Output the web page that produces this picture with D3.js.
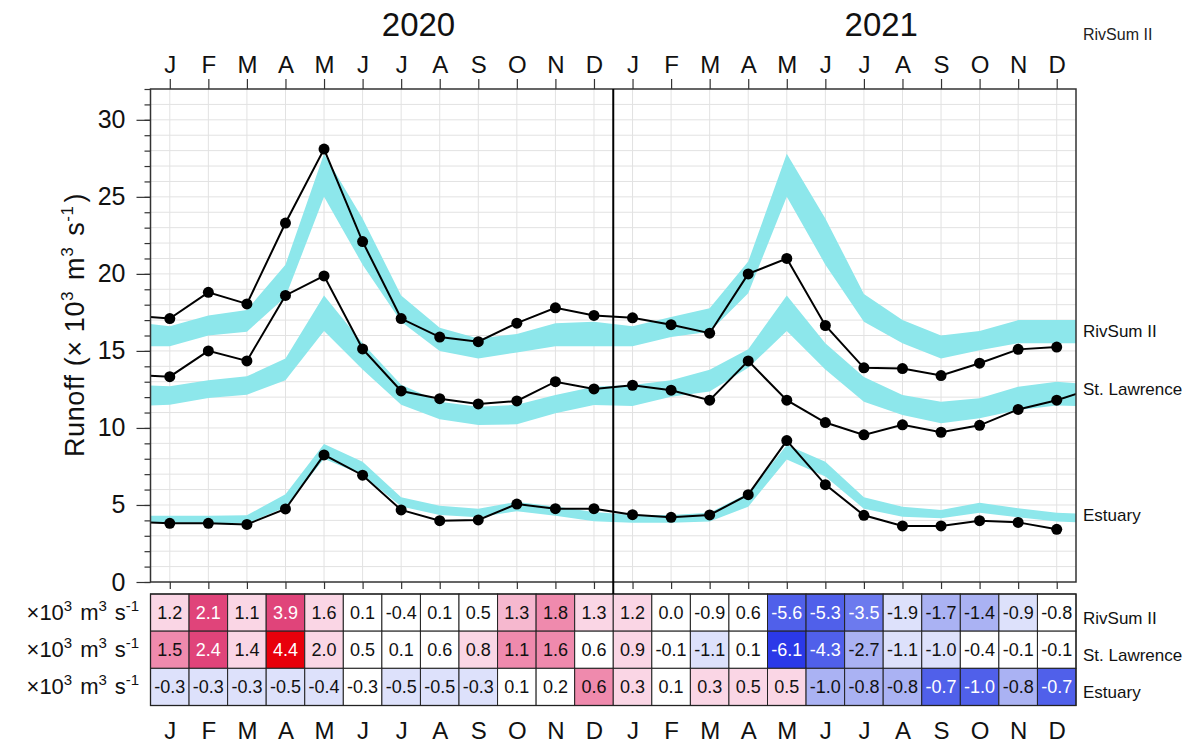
<!DOCTYPE html>
<html><head><meta charset="utf-8">
<script src="https://cdn.jsdelivr.net/npm/d3@7"></script>
<style>
html,body{margin:0;padding:0;background:#fff;}
svg{display:block;font-family:"Liberation Sans",Arial,Helvetica,sans-serif;}
</style></head><body>
<svg id="chart" width="1190" height="746"></svg>
<script>
// ---------------- DATA ----------------
const months = ["J","F","M","A","M","J","J","A","S","O","N","D"];
const years = ["2020","2021"];
const seriesNames = ["RivSum II","St. Lawrence","Estuary"];

// Observed monthly runoff, Jan 2020 .. Dec 2021 (x10^3 m^3 s^-1)
const rivsumObs = [17.1,18.8,18.05,23.3,28.1,22.1,17.1,15.9,15.6,16.8,17.8,17.3,
                   17.15,16.7,16.15,20.0,21.0,16.65,13.9,13.85,13.4,14.2,15.1,15.25];
const stlObs    = [13.33,15.0,14.35,18.6,19.87,15.13,12.4,11.9,11.56,11.75,13.0,12.53,
                   12.77,12.45,11.8,14.35,11.8,10.35,9.55,10.2,9.72,10.17,11.2,11.8];
const estObs    = [3.81,3.81,3.74,4.74,8.25,6.93,4.68,3.98,4.03,5.06,4.76,4.76,
                   4.37,4.2,4.35,5.67,9.18,6.32,4.33,3.64,3.64,3.98,3.87,3.42];
// neighbouring months just outside the plotted range: [Dec 2019, Jan 2022]
const rivsumEdge = [17.3, null];
const stlEdge    = [13.45, 12.6];
const estEdge    = [3.9, null];

// Climatological range (cyan band), Dec 2019, Jan 2020 .. Dec 2021, Jan 2022
const rivsumLo = [15.3, 15.3,16.0,16.25,18.5,25.0,20.6,16.9,15.0,14.5,14.9,15.3,15.3,
                  15.3,15.9,16.25,18.75,25.0,20.6,16.9,15.5,14.5,15.05,15.5,15.5, 15.5];
const rivsumHi = [16.9, 16.6,17.3,17.66,20.6,27.8,23.6,18.6,16.5,15.8,16.1,16.8,16.9,
                  16.6,17.2,17.77,20.8,27.8,23.6,18.7,17.0,16.0,16.3,17.0,17.0, 17.0];
const stlLo    = [11.4, 11.5,11.95,12.15,13.1,16.3,13.8,11.5,10.56,10.19,10.24,10.95,11.49,
                  11.43,12.03,12.36,13.9,16.3,13.8,11.7,10.84,10.3,10.63,11.17,11.45, 11.4];
const stlHi    = [12.8, 12.7,13.1,13.35,14.5,18.6,15.5,12.8,11.7,11.38,11.5,12.14,12.68,
                  12.79,13.1,13.77,15.1,18.6,15.5,13.3,12.14,11.7,11.93,12.68,13.0, 12.8];
const estLo    = [3.85, 3.85,3.85,3.8,4.85,8.0,6.95,4.9,4.35,4.2,4.6,4.3,3.95,
                  3.85,3.85,3.92,4.89,7.95,6.85,4.75,4.24,4.13,4.5,4.2,3.92, 3.85];
const estHi    = [4.3, 4.3,4.3,4.33,5.7,8.95,7.8,5.5,4.95,4.75,5.2,4.9,4.55,
                  4.35,4.35,4.5,5.76,8.9,7.8,5.5,4.89,4.68,5.15,4.78,4.5, 4.4];

// Anomalies shown in the table (x10^3 m^3 s^-1)
const rivsumAnom = [1.2,2.1,1.1,3.9,1.6,0.1,-0.4,0.1,0.5,1.3,1.8,1.3,
                    1.2,0.0,-0.9,0.6,-5.6,-5.3,-3.5,-1.9,-1.7,-1.4,-0.9,-0.8];
const stlAnom    = [1.5,2.4,1.4,4.4,2.0,0.5,0.1,0.6,0.8,1.1,1.6,0.6,
                    0.9,-0.1,-1.1,0.1,-6.1,-4.3,-2.7,-1.1,-1.0,-0.4,-0.1,-0.1];
const estAnom    = [-0.3,-0.3,-0.3,-0.5,-0.4,-0.3,-0.5,-0.5,-0.3,0.1,0.2,0.6,
                    0.3,0.1,0.3,0.5,0.5,-1.0,-0.8,-0.8,-0.7,-1.0,-0.8,-0.7];
// Standardized anomalies (estimated from cell shading) used for colour
const rivsumStd = [0.8,2.2,0.7,2.5,0.7,0.1,-0.2,0.1,0.4,1.3,1.7,0.8,
                   0.8,0.0,-0.4,0.3,-2.3,-2.2,-1.8,-0.8,-1.2,-1.3,-0.7,-0.4];
const stlStd    = [1.6,2.3,0.7,3.2,0.7,0.3,0.1,0.3,0.6,1.6,1.6,0.3,
                   0.7,0.0,-0.7,0.1,-3.2,-2.2,-1.2,-0.7,-0.6,-0.2,0.0,0.0];
const estStd    = [-0.6,-0.6,-0.6,-0.7,-0.6,-0.4,-0.7,-0.7,-0.6,0.1,0.3,1.6,
                   0.7,0.2,0.6,0.7,0.6,-1.2,-1.2,-1.1,-2.2,-2.3,-1.3,-2.1];

const yTicksMajor = [0,5,10,15,20,25,30];

// ---------------- LAYOUT ----------------
const svg = d3.select("#chart");
const x = d3.scaleLinear().domain([-0.5, 23.5]).range([150.5, 1076]);
const y = d3.scaleLinear().domain([0, 32]).range([582, 89]);
const plotL = x(-0.5), plotR = x(23.5), plotT = y(32), plotB = y(0);
const idx = d3.range(24);
const extIdx = d3.range(-1, 25);
const bandColor = "#8de7eb";
const axisColor = "#333";
const fmt1 = v => d3.format(".1f")(v).replace("\u2212", "-");

const series = [
  {name: seriesNames[0], obs: rivsumObs, edge: rivsumEdge, lo: rivsumLo, hi: rivsumHi, anom: rivsumAnom, std: rivsumStd, labelBase: 337},
  {name: seriesNames[1], obs: stlObs, edge: stlEdge, lo: stlLo, hi: stlHi, anom: stlAnom, std: stlStd, labelBase: 395},
  {name: seriesNames[2], obs: estObs, edge: estEdge, lo: estLo, hi: estHi, anom: estAnom, std: estStd, labelBase: 521}
];

// helper for text with superscripts
function supText(sel, parts, supSize, shift) {
  parts.forEach(p => {
    if (p[1]) {
      sel.append("tspan").attr("dy", -shift).attr("font-size", supSize).text(p[0]);
      sel.append("tspan").attr("dy", shift).text("\u200a");
    } else {
      sel.append("tspan").text(p[0]);
    }
  });
}

// clip
svg.append("defs").append("clipPath").attr("id","plotclip")
  .append("rect").attr("x",plotL).attr("y",plotT).attr("width",plotR-plotL).attr("height",plotB-plotT);

// grid
const grid = svg.append("g").attr("stroke","#e2e2e2").attr("stroke-width",1);
grid.selectAll("line.v").data(idx).join("line").attr("class","v")
  .attr("x1",d=>x(d)).attr("x2",d=>x(d)).attr("y1",plotT).attr("y2",plotB);
grid.selectAll("line.h").data(d3.range(1,32)).join("line").attr("class","h")
  .attr("x1",plotL).attr("x2",plotR).attr("y1",d=>y(d)).attr("y2",d=>y(d));

const plotG = svg.append("g").attr("clip-path","url(#plotclip)");

// bands
const area = d3.area().x(d=>x(d.i)).y0(d=>y(d.lo)).y1(d=>y(d.hi));
series.forEach(s => {
  const pts = extIdx.map((i,k) => ({i, lo: s.lo[k], hi: s.hi[k]}));
  plotG.append("path").datum(pts).attr("d", area).attr("fill", bandColor);
});

// lines
const line = d3.line().defined(d=>d.v!=null).x(d=>x(d.i)).y(d=>y(d.v));
series.forEach(s => {
  const vals = [s.edge[0]].concat(s.obs, [s.edge[1]]);
  const pts = extIdx.map((i,k) => ({i, v: vals[k]}));
  plotG.append("path").datum(pts).attr("d", line)
    .attr("fill","none").attr("stroke","#000").attr("stroke-width",2);
  plotG.selectAll(null).data(s.obs).join("circle")
    .attr("cx",(d,i)=>x(i)).attr("cy",d=>y(d)).attr("r",5.5).attr("fill","#000");
});

// axes
function styleAxis(g){
  g.select(".domain").remove();
  g.selectAll(".tick line").attr("stroke",axisColor).attr("stroke-width",1.2);
  g.selectAll(".tick text").attr("fill","#111");
}
svg.append("g").attr("transform",`translate(${plotL},0)`)
  .call(d3.axisLeft(y).tickValues(d3.range(0,33)).tickSize(6).tickFormat(""))
  .call(styleAxis);
svg.append("g").attr("transform",`translate(${plotL},0)`)
  .call(d3.axisLeft(y).tickValues(yTicksMajor).tickSize(14).tickPadding(11).tickFormat(d3.format("d")))
  .call(styleAxis)
  .call(g=>g.selectAll(".tick text").attr("font-size",25).attr("font-family","Liberation Sans, Arial, sans-serif"));
svg.append("g").attr("transform",`translate(0,${plotT})`)
  .call(d3.axisTop(x).tickValues(idx).tickSize(10).tickPadding(6).tickFormat(i=>months[i%12]))
  .call(styleAxis)
  .call(g=>g.selectAll(".tick text").attr("font-size",24).attr("font-family","Liberation Sans, Arial, sans-serif"));
svg.append("g").attr("transform",`translate(0,${plotB})`)
  .call(d3.axisBottom(x).tickValues(idx).tickSize(7).tickFormat(""))
  .call(styleAxis);

// frame
svg.append("rect").attr("x",plotL).attr("y",plotT).attr("width",plotR-plotL).attr("height",plotB-plotT)
  .attr("fill","none").attr("stroke",axisColor).attr("stroke-width",1.5);

// year titles
svg.selectAll("text.year").data(years).join("text").attr("class","year")
  .attr("x",(d,i)=>x(6.45 + 12*i)).attr("y",36).attr("text-anchor","middle")
  .attr("font-size",33).attr("fill","#111").text(d=>d);

// top-right label
svg.append("text").attr("x",1083).attr("y",40).attr("font-size",16).attr("fill","#222").text(seriesNames[0]);

// right labels in plot
svg.selectAll("text.rl").data(series).join("text").attr("class","rl")
  .attr("x",1083).attr("y",d=>d.labelBase).attr("font-size",17).attr("fill","#111").text(d=>d.name);

// y title
const yt = svg.append("text").attr("transform","translate(84,325) rotate(-90)")
  .attr("text-anchor","middle").attr("font-size",27).attr("letter-spacing",0.6).attr("fill","#111");
supText(yt, [["Runoff (\u00d7 10",0],["3",1],[" m",0],["3",1],[" s",0],["-1",1],[")",0]], 17, 11);

// ---------------- TABLE ----------------
const rowY = d3.scaleBand().domain(seriesNames).range([594, 705.5]);
const colorScale = d3.scaleThreshold()
  .domain([-3,-2,-1.5,-1,-0.5,0.5,1,1.5,2,3])
  .range(["#2b39e8","#5060ea","#6c7aee","#aab2f3","#dde1fb","#ffffff","#fad6e5","#f6b8cf","#ef8aad","#e0447a","#e8000b"]);

const tbl = svg.append("g");
series.forEach(s => {
  const row = tbl.append("g");
  row.selectAll("rect").data(s.anom).join("rect")
    .attr("x",(d,i)=>x(i-0.5)).attr("width",(d,i)=>x(i+0.5)-x(i-0.5))
    .attr("y",rowY(s.name)).attr("height",rowY.bandwidth())
    .attr("fill",(d,i)=>colorScale(s.std[i])).attr("stroke","#222").attr("stroke-width",1);
  row.selectAll("text").data(s.anom).join("text")
    .attr("x",(d,i)=>x(i)).attr("y",rowY(s.name)+rowY.bandwidth()/2).attr("dy","0.36em")
    .attr("text-anchor","middle").attr("font-size",18)
    .attr("fill",(d,i)=>(s.std[i]<=-1.5||s.std[i]>=2)?"#fff":"#111")
    .text(d=>fmt1(d));
  // unit label on the left
  const ul = tbl.append("text").attr("x",141).attr("y",rowY(s.name)+rowY.bandwidth()/2+7)
    .attr("text-anchor","end").attr("font-size",22).attr("fill","#111");
  supText(ul, [["\u00d710",0],["3",1],[" m",0],["3",1],[" s",0],["-1",1]], 15, 9);
  // series label on the right
  tbl.append("text").attr("x",1083).attr("y",rowY(s.name)+rowY.bandwidth()/2+11)
    .attr("font-size",17).attr("fill","#111").text(s.name);
});
tbl.append("rect").attr("x",x(-0.5)).attr("y",594).attr("width",x(23.5)-x(-0.5)).attr("height",705.5-594)
  .attr("fill","none").attr("stroke","#222").attr("stroke-width",1.3);

// bottom month labels
svg.append("g").attr("transform",`translate(0,705.5)`)
  .call(d3.axisBottom(x).tickValues(idx).tickSize(0).tickPadding(16).tickFormat(i=>months[i%12]))
  .call(styleAxis)
  .call(g=>g.selectAll(".tick text").attr("font-size",24).attr("font-family","Liberation Sans, Arial, sans-serif"));

// year divider
svg.append("line").attr("x1",x(11.5)).attr("x2",x(11.5)).attr("y1",plotT).attr("y2",594)
  .attr("stroke","#000").attr("stroke-width",2);
</script></body></html>
